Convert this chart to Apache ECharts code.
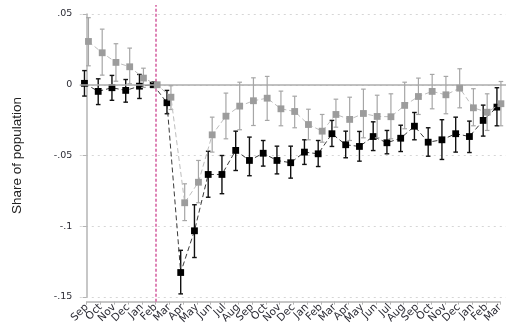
<!DOCTYPE html>
<html>
<head>
<meta charset="utf-8">
<script src="https://cdn.jsdelivr.net/npm/echarts@6/dist/echarts.min.js"></script>
<style>
  html, body { margin: 0; padding: 0; background: #fff; }
  #chart { width: 506px; height: 327px; }
</style>
</head>
<body>
<div id="chart"></div>
<script>
// Monthly categories, Sep through Mar (31 months)
const months = ['Sep','Oct','Nov','Dec','Jan','Feb','Mar','Apr','May','Jun','Jul','Aug',
                'Sep','Oct','Nov','Dec','Jan','Feb','Mar','Apr','May','Jun','Jul','Aug',
                'Sep','Oct','Nov','Dec','Jan','Feb','Mar'];

// Reference month (coefficient fixed at zero)
const refIndex = 5;

// Dark series: point estimates and confidence bounds
const darkEst = [0.001, -0.0047, -0.0021, -0.004, -0.001, 0, -0.0127, -0.1327, -0.1032, -0.0634, -0.0634,
  -0.0464, -0.0535, -0.0484, -0.0535, -0.0551, -0.0476, -0.0488, -0.0346, -0.0424, -0.0436, -0.0366,
  -0.041, -0.0378, -0.0293, -0.0406, -0.0389, -0.0346, -0.0366, -0.0252, -0.0158];
const darkHi = [0.010, 0.0042, 0.0066, 0.0037, 0.0073, null, -0.004, -0.117, -0.0848, -0.047, -0.050,
  -0.0328, -0.037, -0.0394, -0.0434, -0.0434, -0.0389, -0.0394, -0.0252, -0.0328, -0.033, -0.0262,
  -0.0323, -0.0286, -0.0196, -0.0304, -0.0247, -0.0229, -0.0257, -0.0144, -0.0021];
const darkLo = [-0.008, -0.014, -0.011, -0.0123, -0.0097, null, -0.0205, -0.1478, -0.1221, -0.0795, -0.077,
  -0.0606, -0.0643, -0.0575, -0.063, -0.066, -0.0563, -0.0578, -0.0436, -0.0516, -0.054, -0.0465,
  -0.0488, -0.0472, -0.0389, -0.0505, -0.0528, -0.0476, -0.0479, -0.0363, -0.029];

// Light series: point estimates and confidence bounds
const lightEst = [0.0306, 0.0226, 0.0158, 0.0127, 0.0047, 0, -0.0088, -0.0834, -0.0689, -0.0354, -0.0222,
  -0.0151, -0.0113, -0.0095, -0.017, -0.0189, -0.0281, -0.0328, -0.021, -0.0245, -0.0203, -0.0224,
  -0.0226, -0.0146, -0.0083, -0.0047, -0.0071, -0.0024, -0.0163, -0.0194, -0.0134];
const lightHi = [0.0474, 0.0393, 0.029, 0.0259, 0.0117, null, -0.0007, -0.07, -0.0535, -0.0229, -0.0059,
  0.0018, 0.0049, 0.0059, -0.0045, -0.0081, -0.0173, -0.021, -0.0102, -0.0088, -0.0031, -0.0074,
  -0.0064, 0.0018, 0.0047, 0.0073, 0.0059, 0.0113, -0.0028, -0.0064, 0.0023];
const lightLo = [0.0134, 0.0068, 0.0025, 0.0007, -0.0019, null, -0.0175, -0.096, -0.0834, -0.0476, -0.0382,
  -0.0318, -0.0288, -0.0252, -0.029, -0.0304, -0.0389, -0.0406, -0.03, -0.0394, -0.0375, -0.0375,
  -0.0382, -0.0311, -0.021, -0.017, -0.0205, -0.0163, -0.029, -0.0323, -0.029];

// Y axis ticks and their printed labels
const yTicks = [0.05, 0, -0.05, -0.1, -0.15];
const yTickLabels = ['.05', '0', '-.05', '-.1', '-.15'];

const yTitle = 'Share of population';

// Horizontal dodge so the two series do not overlap
const darkShift = -0.16;
const lightShift = 0.13;

const FONT = "'Liberation Sans', Arial, Helvetica, sans-serif";
const TICK_FONT = "'DejaVu Sans', 'Liberation Sans', sans-serif";

function points(est, shift) {
  return est.map((v, i) => [i + shift, v]);
}
function bars(lo, hi, shift) {
  const out = [];
  lo.forEach((l, i) => { if (l !== null && hi[i] !== null) out.push([i + shift, l, hi[i]]); });
  return out;
}
function errorBarRenderer(color, width) {
  return function (params, api) {
    const x = api.value(0);
    const top = api.coord([x, api.value(2)]);
    const bot = api.coord([x, api.value(1)]);
    const cap = 2.3;
    const style = { stroke: color, lineWidth: width, fill: null };
    return {
      type: 'group',
      children: [
        { type: 'line', shape: { x1: top[0], y1: top[1], x2: bot[0], y2: bot[1] }, style },
        { type: 'line', shape: { x1: top[0] - cap, y1: top[1], x2: top[0] + cap, y2: top[1] }, style },
        { type: 'line', shape: { x1: bot[0] - cap, y1: bot[1], x2: bot[0] + cap, y2: bot[1] }, style }
      ]
    };
  };
}

const chart = echarts.init(document.getElementById('chart'), null, { renderer: 'canvas' });

const step = 415 / (months.length - 1);

chart.setOption({
  backgroundColor: '#ffffff',
  animation: false,
  grid: [
    // plotting area
    { left: 86.7 - step / 2, width: step * months.length, top: 14, height: 283, containLabel: false },
    // month axis, drawn slightly below the plot
    { left: 86.7, width: 415, top: 5, height: 299, containLabel: false }
  ],
  xAxis: [
    { type: 'value', gridIndex: 0, min: -0.5, max: months.length - 0.5, show: false },
    {
      type: 'category', gridIndex: 1, data: months, boundaryGap: false, position: 'bottom',
      axisLine: { show: true, lineStyle: { color: '#b4b4b4', width: 1.5 } },
      axisTick: { show: true, interval: 0, length: 3, lineStyle: { color: '#b4b4b4', width: 1 } },
      axisLabel: { interval: 0, rotate: 45, fontSize: 10.5, color: '#2a2a33', fontFamily: TICK_FONT, margin: 4 },
      splitLine: { show: false }
    }
  ],
  yAxis: [
    {
      type: 'value', gridIndex: 0, min: -0.15, max: 0.05, interval: 0.05,
      name: yTitle, nameLocation: 'middle', nameGap: 56,
      nameTextStyle: { fontSize: 13.5, color: '#222', fontFamily: FONT },
      axisLine: { show: true, lineStyle: { color: '#b4b4b4', width: 1.5 } },
      axisTick: { show: true, length: 4, lineStyle: { color: '#b4b4b4', width: 1 } },
      axisLabel: {
        fontSize: 9.5, color: '#2a2a33', fontFamily: TICK_FONT, margin: 7.5,
        formatter: function (v) {
          const k = yTicks.findIndex(t => Math.abs(t - v) < 1e-9);
          return k >= 0 ? yTickLabels[k] : '';
        }
      },
      splitLine: {
        show: true,
        lineStyle: { color: '#d6d6d6', width: 1, type: [2, 4] }
      }
    },
    { type: 'value', gridIndex: 1, min: 0, max: 1, show: false }
  ],
  series: [
    // reference line at the base month
    {
      type: 'line', xAxisIndex: 1, yAxisIndex: 1, data: [], silent: true,
      markLine: {
        silent: true, symbol: 'none', label: { show: false },
        lineStyle: { color: '#d35c9f', width: 1.5, type: [3, 2] },
        data: [{ xAxis: refIndex }]
      }
    },
    // zero line
    {
      type: 'line', xAxisIndex: 0, yAxisIndex: 0, data: [], silent: true,
      markLine: {
        silent: true, symbol: 'none', label: { show: false },
        lineStyle: { color: '#acacac', width: 1.5, type: 'solid' },
        data: [{ yAxis: 0 }]
      }
    },
    {
      name: 'Dark CI', type: 'custom', xAxisIndex: 0, yAxisIndex: 0,
      renderItem: errorBarRenderer('#111111', 1.4),
      data: bars(darkLo, darkHi, darkShift), z: 3
    },
    {
      name: 'Dark', type: 'line', xAxisIndex: 0, yAxisIndex: 0,
      data: points(darkEst, darkShift),
      symbol: 'rect', symbolSize: 6.8,
      itemStyle: { color: '#000000' },
      lineStyle: { color: '#3a3a3a', width: 1, type: [5, 3] },
      z: 4
    },
    {
      name: 'Light CI', type: 'custom', xAxisIndex: 0, yAxisIndex: 0,
      renderItem: errorBarRenderer('#a6a6a6', 1.2),
      data: bars(lightLo, lightHi, lightShift), z: 5
    },
    {
      name: 'Light', type: 'line', xAxisIndex: 0, yAxisIndex: 0,
      data: points(lightEst, lightShift),
      symbol: 'rect', symbolSize: 6.8,
      itemStyle: { color: '#9c9c9c' },
      lineStyle: { color: '#bdbdbd', width: 1, type: [5, 3] },
      z: 6
    }
  ]
});
</script>
</body>
</html>
